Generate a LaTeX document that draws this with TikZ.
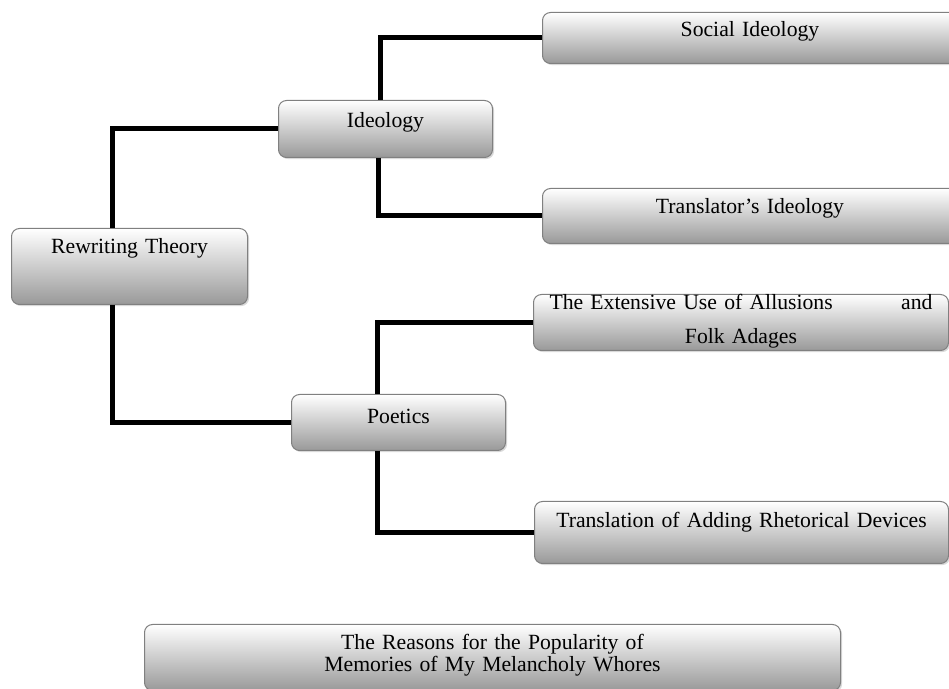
\documentclass[tikz,border=0pt]{standalone}
\usepackage{fontspec}
\setmainfont{Liberation Serif}
\usetikzlibrary{shadows}

\begin{document}
\begin{tikzpicture}[x=0.5pt, y=-0.5pt,
    box/.style={draw=black!50, line width=0.5pt, rounded corners=4pt,
      top color=white, bottom color=black!40,
      drop shadow={shadow xshift=0.8pt, shadow yshift=-0.8pt, opacity=0.3},
      anchor=north west, inner sep=0pt, align=center,
      font=\fontsize{10.85}{11}\selectfont},
    link/.style={line width=2.5pt, black}]
  \useasboundingbox (0,0) rectangle (949,689);
  \clip (0,0) rectangle (949,689);

  \node[box, text width=118pt, text height=12.5pt, text depth=25.5pt] (rt) at (11,228) {Rewriting Theory};
  \node[box, text width=107pt, text height=13.5pt, text depth=15pt] (ideo) at (278,100) {Ideology};
  \node[box, text width=107pt, text height=14.5pt, text depth=13.5pt] (poet) at (291,394) {Poetics};
  \node[box, text width=207.5pt, text height=12pt, text depth=13.5pt] (soc) at (542,12) {Social Ideology};
  \node[box, text width=207.5pt, text height=12.5pt, text depth=15pt] (trans) at (542,188) {Translator’s Ideology};
  \node[box, text width=207.5pt, text height=7.5pt, text depth=20.5pt] (allus) at (533,294)
    {\makebox[191.5pt]{The Extensive Use of Allusions\hfill and}\\[6pt] Folk Adages};
  \node[box, text width=207pt, text height=13pt, text depth=18pt] (rheto) at (534,501) {Translation of Adding Rhetorical Devices};
  \node[box, text width=348pt, text height=12.5pt, text depth=20.5pt] (reas) at (144,624)
    {The Reasons for the Popularity of\\ Memories of My Melancholy Whores};

  \draw[link] ([xshift=-8.5pt]rt.north) |- (ideo.west);
  \draw[link] ([xshift=-8.5pt]rt.south) |- (poet.west);
  \draw[link] ([xshift=-2.5pt]ideo.north) |- (soc.west);
  \draw[link] ([xshift=-3.5pt]ideo.south) |- (trans.west);
  \draw[link] ([xshift=-10.5pt]poet.north) |- (allus.west);
  \draw[link] ([xshift=-10.5pt]poet.south) |- (rheto.west);
\end{tikzpicture}
\end{document}
